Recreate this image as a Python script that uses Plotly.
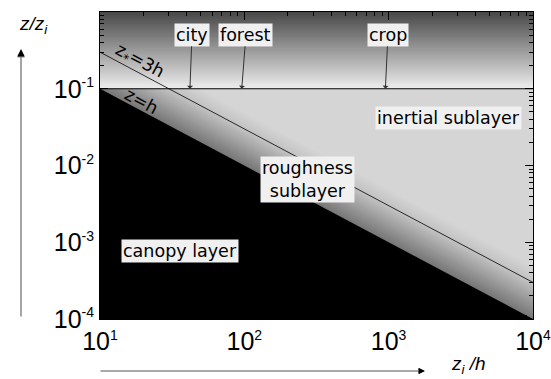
import numpy as np
import plotly.graph_objects as go

# ---- data / values ----
x_limits = [10, 1e4]          # z_i / h
y_limits = [1e-4, 1]          # z / z_i
surface_layer_top = 0.1       # z / z_i where the surface layer ends
canopy_ratio = 1              # z = h
rsl_ratio = 3                 # z* = 3h
site_names = ["city", "forest", "crop"]
site_x = [42, 96, 950]
x_tickvals = [10, 100, 1000, 10000]
x_exponents = ["1", "2", "3", "4"]
y_tickvals = [1e-4, 1e-3, 1e-2, 1e-1, 1]
y_exponents = ["-4", "-3", "-2", "-1", "0"]

x0, x1 = x_limits
y0, y1 = y_limits

def sup_label(e):
    return f"10<sup><span style='font-size:14px'>{e}</span></sup>"

fig = go.Figure()

def gray(v):
    v = int(round(v))
    return f"rgb({v},{v},{v})"

# inertial sublayer base
fig.add_trace(go.Scatter(x=[x0, x1, x1, x0, x0], y=[y0, y0, surface_layer_top, surface_layer_top, y0],
                         fill="toself", fillcolor=gray(213), mode="none", hoverinfo="skip", showlegend=False))

# roughness sublayer shading: regions below y = k*h/z_i, lighter to darker
ks = np.geomspace(canopy_ratio, 5.0, 60)[::-1]
for k in ks:
    g = np.interp(np.log10(k), [0, np.log10(3), np.log10(5)], [118, 194, 213])
    xk = k / surface_layer_top
    if xk < x1:
        xs = [x0, x0, xk, x1, x1, x0]
        ys = [y0, surface_layer_top, surface_layer_top, k / x1, y0, y0]
    else:
        xs = [x0, x0, x1, x1, x0]
        ys = [y0, surface_layer_top, k / x1, y0, y0]
    fig.add_trace(go.Scatter(x=xs, y=ys, fill="toself", fillcolor=gray(g), mode="none",
                             hoverinfo="skip", showlegend=False))

# canopy layer (black): z < h
fig.add_trace(go.Scatter(x=[x0, x0, x1, x1, x0], y=[y0, canopy_ratio / x0, canopy_ratio / x1, y0, y0],
                         fill="toself", fillcolor="black", mode="none", hoverinfo="skip", showlegend=False))

# mixed layer gradient above surface layer
levels = np.geomspace(surface_layer_top, y1, 60)[:-1]
for yl in levels:
    g = np.interp(np.log10(yl), [np.log10(surface_layer_top), np.log10(y1)], [236, 70])
    fig.add_trace(go.Scatter(x=[x0, x1, x1, x0, x0], y=[yl, yl, y1, y1, yl], fill="toself",
                             fillcolor=gray(g), mode="none", hoverinfo="skip", showlegend=False))

# lines
fig.add_trace(go.Scatter(x=[x0, x1], y=[surface_layer_top, surface_layer_top], mode="lines",
                         line=dict(color="black", width=1), hoverinfo="skip", showlegend=False))
fig.add_trace(go.Scatter(x=[x0, x1], y=[rsl_ratio / x0, rsl_ratio / x1], mode="lines",
                         line=dict(color="black", width=0.8), hoverinfo="skip", showlegend=False))

def minor_vals(lo, hi):
    out = []
    for e in range(int(round(np.log10(lo))), int(round(np.log10(hi)))):
        for m in range(2, 10):
            out.append(m * 10.0 ** e)
    return out

axis_common = dict(type="log", showgrid=False, zeroline=False, showline=True, linecolor="black",
                   linewidth=1, mirror="allticks", ticks="inside", ticklen=8, tickcolor="black",
                   automargin=False,
                   tickfont=dict(family="Liberation Sans, Arial", size=25, color="black"))

fig.update_xaxes(range=[np.log10(x0), np.log10(x1) + 0.0005], tickmode="array", tickvals=x_tickvals,
                 ticktext=[sup_label(e) for e in x_exponents],
                 minor=dict(tickmode="array", tickvals=minor_vals(x0, x1), ticks="inside",
                            ticklen=4, tickcolor="black"), **axis_common)
fig.update_yaxes(range=[np.log10(y0), np.log10(y1)], tickmode="array", tickvals=y_tickvals,
                 ticktext=[sup_label(e) for e in y_exponents],
                 minor=dict(tickmode="array", tickvals=minor_vals(y0, y1), ticks="inside",
                            ticklen=4, tickcolor="black"), **axis_common)

W, H = 551, 379
L, R, T, B = 100, 18, 12, 60
pw, ph = W - L - R, H - T - B

def px(xp):
    return (xp - L) / pw

def py(yp):
    return (H - B - yp) / ph

label_font = dict(family="DejaVu Sans", size=17.5, color="black")
box = dict(bgcolor="#f0f0f0", borderpad=1)
C = dict(xanchor="center", yanchor="middle")

annotations = []
# site arrows
site_box_px = [192, 246, 388]
for name, sx, bx in zip(site_names, site_x, site_box_px):
    xp_arrow = L + (np.log10(sx) - np.log10(x0)) / (np.log10(x1) - np.log10(x0)) * pw
    annotations.append(dict(x=np.log10(sx), y=np.log10(surface_layer_top), xref="x", yref="y", text=name,
                            showarrow=True, ax=bx - xp_arrow, ay=-54, arrowhead=1, arrowsize=1,
                            arrowwidth=1, arrowcolor="#333", font=label_font, **box))

annotations += [
    dict(x=px(448), y=py(118), xref="paper", yref="paper", text="inertial sublayer", showarrow=False,
         font=label_font, **box, **C),
    dict(x=px(307), y=py(179), xref="paper", yref="paper", text="roughness<br>sublayer", showarrow=False,
         font=label_font, **box, **C),
    dict(x=px(180), y=py(251), xref="paper", yref="paper", text="canopy layer", showarrow=False,
         font=label_font, **box, **C),
    dict(x=px(141), y=py(101), xref="paper", yref="paper", text="z=h", showarrow=False,
         font=label_font, textangle=28, **C),
    dict(x=px(139), y=py(62), xref="paper", yref="paper", text="z<sub>*</sub>=3h", showarrow=False,
         font=label_font, textangle=28, **C),
    # axis titles
    dict(x=px(33), y=py(25), xref="paper", yref="paper", text="<i>z/z<sub>i</sub></i>", showarrow=False,
         font=dict(family="Liberation Sans, Arial", size=19, color="black"), **C),
    dict(x=px(468), y=py(365), xref="paper", yref="paper", text="<i>z<sub>i</sub> /h</i>", showarrow=False,
         font=dict(family="Liberation Sans, Arial", size=19, color="black"), **C),
    # vertical arrow
    dict(x=px(21), y=py(50), xref="paper", yref="paper", text="", showarrow=True, ax=0, ay=268,
         arrowhead=2, arrowsize=1, arrowwidth=1.5, arrowcolor="#888"),
    dict(x=px(21), y=py(49), xref="paper", yref="paper", text="", showarrow=True, ax=0, ay=6,
         arrowhead=2, arrowsize=1, arrowwidth=1.5, arrowcolor="black"),
    # horizontal arrow
    dict(x=px(424), y=py(371), xref="paper", yref="paper", text="", showarrow=True, ax=-325, ay=0,
         arrowhead=2, arrowsize=1, arrowwidth=1.2, arrowcolor="#555"),
    dict(x=px(425), y=py(371), xref="paper", yref="paper", text="", showarrow=True, ax=-6, ay=0,
         arrowhead=2, arrowsize=1, arrowwidth=1.2, arrowcolor="black"),
]

fig.update_layout(width=W, height=H, margin=dict(l=L, r=R, t=T, b=B, autoexpand=False),
                  paper_bgcolor="white", plot_bgcolor="white", annotations=annotations, showlegend=False)

fig.write_html("out.html")
